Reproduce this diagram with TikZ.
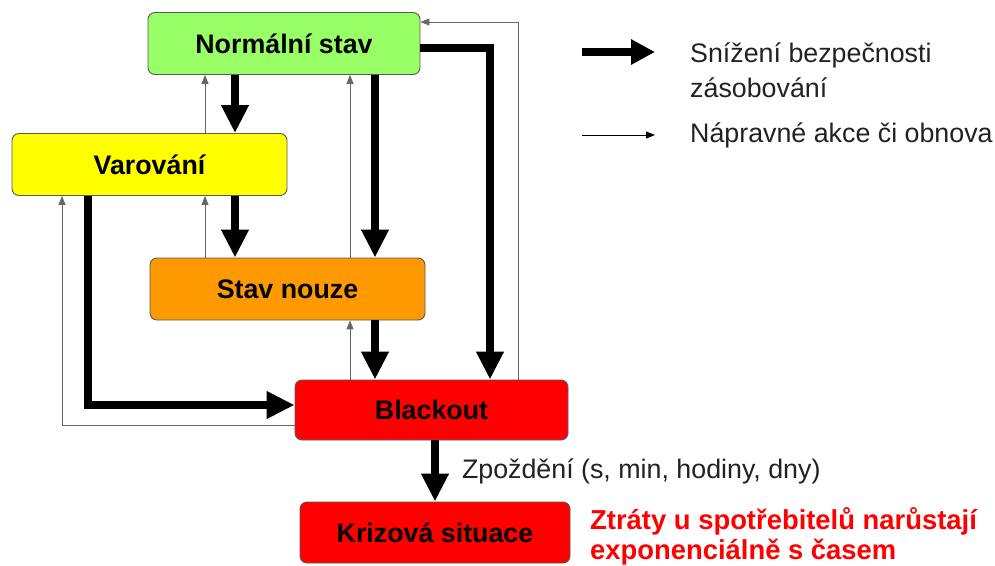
\documentclass[tikz,border=0pt]{standalone}
\usepackage{fontspec}
\setmainfont{Liberation Sans}
\usetikzlibrary{arrows.meta}
\definecolor{stgreen}{HTML}{99FF66}
\definecolor{styellow}{HTML}{FFFF00}
\definecolor{storange}{HTML}{FF9900}
\definecolor{stred}{HTML}{FF0000}
\definecolor{thingray}{HTML}{666666}
\definecolor{txtgray}{HTML}{222222}
\begin{document}
\begin{tikzpicture}[x=1pt,y=-1pt,
  statebox/.style={draw=black!65, line width=0.9pt, rounded corners=7pt,
    minimum height=62pt, inner sep=0pt,
    font=\bfseries\fontsize{26.8}{32}\selectfont},
  degrade/.style={line width=8pt, line join=miter,
    -{Triangle[length=28pt,width=26pt]}},
  recover/.style={draw=thingray, line width=1pt,
    -{Triangle[length=9pt,width=7pt]}},
  plain/.style={font=\fontsize{26.8}{32}\selectfont, text=txtgray, inner sep=0pt, anchor=west},
  redtxt/.style={font=\bfseries\fontsize{27.4}{32}\selectfont, text=stred, inner sep=0pt, anchor=west}
]
\useasboundingbox[fill=white] (0,0) rectangle (995,565);

% states
\node[statebox, fill=stgreen,  minimum width=272pt] (norm)  at (284,43.5)  {Normální stav};
\node[statebox, fill=styellow, minimum width=275pt] (var)   at (149.5,164.5) {Varování};
\node[statebox, fill=storange, minimum width=275pt] (nouze) at (287.5,289)  {Stav nouze};
\node[statebox, fill=stred,    minimum width=273pt, minimum height=60pt] (black) at (431.5,410) {Blackout};
\node[statebox, fill=stred,    minimum width=270pt, minimum height=61pt] (kriz)  at (435,532.5) {Krizová situace};

% Normální stav <-> Varování
\draw[degrade] ([xshift=-49pt]norm.south) -- ([xshift=-49pt]norm.south |- var.north);
\draw[recover] ([xshift=-79pt]norm.south |- var.north) -- ([xshift=-79pt]norm.south);

% Varování <-> Stav nouze
\draw[degrade] ([xshift=-49pt]norm.south |- var.south) -- ([xshift=-49pt]norm.south |- nouze.north);
\draw[recover] ([xshift=-79pt]norm.south |- nouze.north) -- ([xshift=-79pt]norm.south |- var.south);

% Normální stav <-> Stav nouze
\draw[degrade] ([xshift=91pt]norm.south) -- ([xshift=91pt]norm.south |- nouze.north);
\draw[recover] ([xshift=66pt]norm.south |- nouze.north) -- ([xshift=66pt]norm.south);

% Stav nouze <-> Blackout
\draw[degrade] ([xshift=91pt]norm.south |- nouze.south) -- ([xshift=91pt]norm.south |- black.north);
\draw[recover] ([xshift=66pt]norm.south |- black.north) -- ([xshift=66pt]norm.south |- nouze.south);

% Normální stav <-> Blackout
\draw[degrade] ([yshift=-4.5pt]norm.east) -| ([xshift=58.5pt]black.north);
\draw[recover] ([xshift=86.5pt]black.north) |- ([yshift=21.5pt]norm.east);

% Varování <-> Blackout
\draw[degrade] ([xshift=-61.5pt]var.south) |- ([yshift=5pt]black.west);
\draw[recover] ([yshift=-15pt]black.west) -| ([xshift=-87.5pt]var.south);

% Blackout -> Krizová situace
\draw[degrade] ([xshift=3.5pt]black.south) -- ([xshift=3.5pt]black.south |- kriz.north)
  node[midway, right=23pt, plain] (delay) {Zpoždění (s, min, hodiny, dny)};

% consequence
\node[redtxt] (loss1) at (590,521) {Ztráty u spotřebitelů narůstají};
\node[redtxt] (loss2) at (590,552) {exponenciálně s časem};

% legend
\coordinate (lg1a) at (582,52);
\coordinate (lg1b) at (655,52);
\coordinate (lg2a) at (582,135);
\coordinate (lg2b) at (655,135);
\draw[line width=8pt, -{Triangle[length=24pt,width=24pt]}] (lg1a) -- (lg1b);
\draw[draw=black, line width=1pt, -{Triangle[length=9pt,width=7pt]}] (lg2a) -- (lg2b);
\node[plain] (lgt1) at (690,55) {Snížení bezpečnosti};
\node[plain] (lgt2) at (690,88) {zásobování};
\node[plain] (lgt3) at (690,135) {Nápravné akce či obnova};
\end{tikzpicture}
\end{document}
